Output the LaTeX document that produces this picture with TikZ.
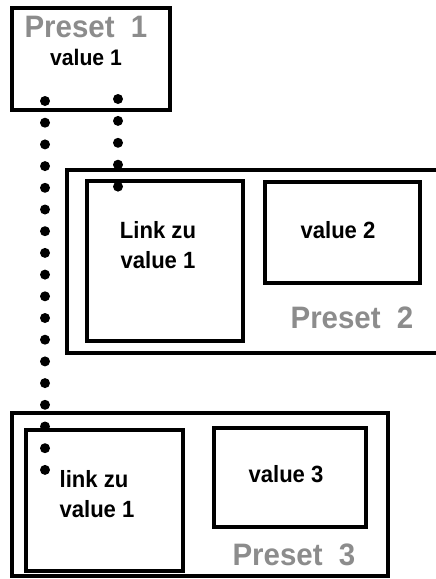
\documentclass[tikz,border=0pt]{standalone}
\usepackage{fontspec}
\setmainfont{Liberation Sans}
\newfontfamily\valfont[FakeStretch=0.94]{Liberation Sans Bold}
\newfontfamily\presetfont[FakeStretch=0.95]{Liberation Sans Bold}
\definecolor{presetgray}{RGB}{140,140,140}
\tikzset{
  box/.style={draw=black, line width=4pt, rectangle, inner sep=0pt, fill=none},
  valtext/.style={anchor=base, inner sep=0pt, font=\valfont\fontsize{23.5}{28}\selectfont},
  presettext/.style={anchor=base, inner sep=0pt, text=presetgray, font=\presetfont\fontsize{31}{34}\selectfont},
  dotline/.style={line width=10pt, line cap=round, dash pattern=on 0pt off #1},
}
\begin{document}
\begin{tikzpicture}[x=1pt,y=-1pt]
\useasboundingbox (0,0) rectangle (436,579);
\begin{scope}
\clip (0,0) rectangle (436,579);
% Preset 1
\node[box, minimum width=158pt, minimum height=102pt] (p1) at (91,59) {};
\node[presettext] (p1t) at (86,37) {Preset\ \ 1};
\node[valtext, font=\valfont\fontsize{22.5}{26}\selectfont] (v1) at (86,65) {value 1};
% Preset 2
\node[box, minimum width=393pt, minimum height=183pt] (p2) at (263.5,261.5) {};
\node[box, minimum width=156pt, minimum height=160pt] (l2) at (165,261) {};
\node[box, minimum width=155pt, minimum height=101pt] (v2box) at (342.5,232.5) {};
\node[valtext] (l2a) at (158,238) {Link zu};
\node[valtext] (l2b) at (158,268) {value 1};
\node[valtext] (v2) at (338,238) {value 2};
\node[presettext] (p2t) at (352,328) {Preset\ \ 2};
% Preset 3
\node[box, minimum width=376pt, minimum height=163pt] (p3) at (199.5,494.5) {};
\node[box, minimum width=157pt, minimum height=141pt] (l3) at (104,500) {};
\node[box, minimum width=152pt, minimum height=99pt] (v3box) at (289.5,477) {};
\node[valtext] (l3a) at (94,487) {link zu};
\node[valtext] (l3b) at (97,517) {value 1};
\node[valtext] (v3) at (286,482) {value 3};
\node[presettext] (p3t) at (294,565) {Preset\ \ 3};
% dotted links
\coordinate (s3) at (45,101);
\coordinate (e3) at (45,471);
\coordinate (s2) at (118,99);
\coordinate (e2) at (118,187);
\draw[dotline=21.7pt] (s3) -- (e3);
\draw[dotline=21.9pt] (s2) -- (e2);
\end{scope}
\end{tikzpicture}
\end{document}
